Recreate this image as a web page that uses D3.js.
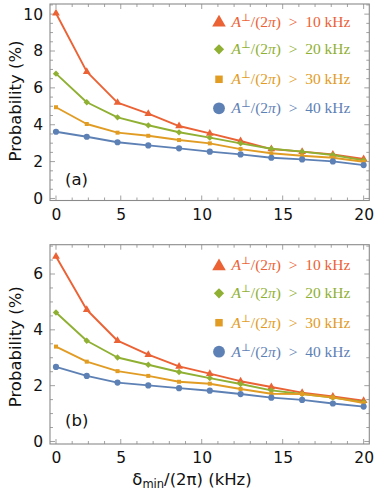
<!DOCTYPE html>
<html>
<head>
<meta charset="utf-8">
<script src="https://cdn.jsdelivr.net/npm/d3@7"></script>
<style>
  html, body { margin: 0; padding: 0; background: #fff; }
  svg { display: block; }
</style>
</head>
<body>
<svg id="chart" width="374" height="492"></svg>
<script>
// ---------- data ----------
const xValues = [1, 2.9, 4.8, 6.7, 8.6, 10.5, 12.4, 14.3, 16.2, 18.1, 20];
const seriesThresholds = ["10", "20", "30", "40"];
const seriesColors = ["#EB6235", "#8FB032", "#E19C24", "#5E81B5"];
const seriesSymbols = ["triangle", "diamond", "square", "circle"];

// panel (a)
const panelA_10 = [10.05, 6.88, 5.20, 4.60, 3.93, 3.53, 3.12, 2.68, 2.54, 2.39, 2.14];
const panelA_20 = [6.77, 5.22, 4.40, 3.97, 3.59, 3.30, 2.99, 2.70, 2.54, 2.36, 2.07];
const panelA_30 = [4.95, 4.04, 3.57, 3.40, 3.17, 2.99, 2.68, 2.45, 2.32, 2.21, 1.99];
const panelA_40 = [3.62, 3.35, 3.05, 2.88, 2.72, 2.54, 2.39, 2.21, 2.12, 2.01, 1.81];

// panel (b)
const panelB_10 = [6.63, 4.72, 3.61, 3.11, 2.69, 2.43, 2.16, 1.95, 1.75, 1.61, 1.46];
const panelB_20 = [4.62, 3.61, 3.01, 2.75, 2.49, 2.27, 2.06, 1.83, 1.70, 1.57, 1.41];
const panelB_30 = [3.40, 2.86, 2.52, 2.35, 2.14, 2.07, 1.88, 1.71, 1.70, 1.58, 1.38];
const panelB_40 = [2.67, 2.35, 2.11, 2.01, 1.91, 1.82, 1.70, 1.57, 1.49, 1.36, 1.25];

// ticks
const xTickValues = [1, 5, 10, 15, 20];
const xTickLabels = ["0", "5", "10", "15", "20"];
const xMinorTicks = d3.range(1, 21, 1);
const yTicksA = [0, 2, 4, 6, 8, 10];
const yTicksB = [0, 2, 4, 6];

// ---------- drawing ----------
const svg = d3.select("#chart");
const FONT = "'DejaVu Sans', sans-serif";
const FRAME = "#8a8a8a";

const panels = [
  { tag: "(a)", series: [panelA_10, panelA_20, panelA_30, panelA_40],
    top: 4, bottom: 200.5, yDomain: [-0.11, 10.55], yTicks: yTicksA,
    legendY: [21.7, 49.3, 79.3, 108.3], tagY: 179, ylabY: 101 },
  { tag: "(b)", series: [panelB_10, panelB_20, panelB_30, panelB_40],
    top: 244.7, bottom: 444, yDomain: [-0.09, 7.05], yTicks: yTicksB,
    legendY: [265.3, 293.3, 322.7, 351.7], tagY: 420, ylabY: 346.7 }
];

const left = 50, right = 369.3;
const x = d3.scaleLinear().domain([0.63, 20.35]).range([left, right]);

const symbolType = {
  triangle: d3.symbolTriangle, diamond: d3.symbolSquare,
  square: d3.symbolSquare, circle: d3.symbolCircle
};
const symbolRot = { triangle: 0, diamond: 45, square: 0, circle: 0 };
const plotSize = { triangle: 26, diamond: 20, square: 16, circle: 30 };
const legSize = { triangle: 80, diamond: 52, square: 56, circle: 110 };

panels.forEach(p => {
  const y = d3.scaleLinear().domain(p.yDomain).range([p.bottom, p.top]);
  const g = svg.append("g");

  // ticks (inward, all four sides)
  const yMinor = d3.range(0, p.yDomain[1], 0.5);
  const tickG = g.append("g").attr("stroke", FRAME).attr("stroke-width", 0.8);
  xMinorTicks.forEach(v => {
    const major = xTickValues.includes(v);
    const L = major ? 5 : 3;
    tickG.append("line").attr("x1", x(v)).attr("x2", x(v)).attr("y1", p.bottom).attr("y2", p.bottom - L);
    tickG.append("line").attr("x1", x(v)).attr("x2", x(v)).attr("y1", p.top).attr("y2", p.top + L);
  });
  yMinor.forEach(v => {
    const major = p.yTicks.includes(v);
    const L = major ? 5 : 3;
    tickG.append("line").attr("y1", y(v)).attr("y2", y(v)).attr("x1", left).attr("x2", left + L);
    tickG.append("line").attr("y1", y(v)).attr("y2", y(v)).attr("x1", right).attr("x2", right - L);
  });

  // axes (labels)
  const xAxis = d3.axisBottom(x).tickValues(xTickValues)
    .tickFormat((d, i) => xTickLabels[i]).tickSize(0).tickPadding(8);
  const xg = g.append("g").attr("transform", `translate(0,${p.bottom})`).call(xAxis);
  const yAxis = d3.axisLeft(y).tickValues(p.yTicks).tickFormat(d3.format("d")).tickSize(0).tickPadding(7);
  const yg = g.append("g").attr("transform", `translate(${left},0)`).call(yAxis);
  [xg, yg].forEach(a => {
    a.select(".domain").remove();
    a.selectAll("text").attr("font-family", FONT).attr("font-size", 15.5).attr("fill", "#111");
  });

  // frame
  g.append("rect").attr("x", left).attr("y", p.top)
    .attr("width", right - left).attr("height", p.bottom - p.top)
    .attr("fill", "none").attr("stroke", FRAME).attr("stroke-width", 1.1);

  // lines and markers
  const line = d3.line().x((d, i) => x(xValues[i])).y(d => y(d));
  p.series.forEach((vals, si) => {
    const name = seriesSymbols[si];
    g.append("path").datum(vals).attr("d", line)
      .attr("fill", "none").attr("stroke", seriesColors[si])
      .attr("stroke-width", 1.9).attr("stroke-linejoin", "round");
    const sym = d3.symbol().type(symbolType[name]).size(plotSize[name]);
    g.selectAll(null).data(vals).enter().append("path")
      .attr("d", sym)
      .attr("transform", (d, i) => `translate(${x(xValues[i])},${y(d)}) rotate(${symbolRot[name]})`)
      .attr("fill", seriesColors[si]);
  });

  // legend
  seriesThresholds.forEach((t, si) => {
    const ly = p.legendY[si];
    const name = seriesSymbols[si];
    const sym = d3.symbol().type(symbolType[name]).size(legSize[name]);
    g.append("path").attr("d", sym)
      .attr("transform", `translate(219,${ly + (name === "triangle" ? 1 : 0)}) rotate(${symbolRot[name]})`)
      .attr("fill", seriesColors[si]);
    const txt = g.append("text").attr("x", 231.5).attr("y", ly + 5)
      .attr("font-family", "'Liberation Serif', 'DejaVu Serif', serif")
      .attr("font-size", 15.5).attr("fill", seriesColors[si]);
    txt.append("tspan").attr("font-style", "italic").text("A");
    txt.append("tspan").attr("font-size", 10.5).attr("dy", -6).text("⊥");
    txt.append("tspan").attr("dy", 6).text("/(2");
    txt.append("tspan").attr("font-style", "italic").text("π");
    txt.append("tspan").text(")\u2002>\u2002" + t + " kHz");
  });

  // panel tag
  g.append("text").attr("x", 65).attr("y", p.tagY + 6)
    .attr("font-family", FONT).attr("font-size", 16.5).attr("fill", "#111").text(p.tag);

  // y label
  g.append("text").attr("transform", `translate(21,${p.ylabY}) rotate(-90)`)
    .attr("text-anchor", "middle")
    .attr("font-family", FONT).attr("font-size", 16.5).attr("fill", "#111")
    .text("Probability (%)");
});

// x label
const xl = svg.append("text").attr("x", 192).attr("y", 485)
  .attr("text-anchor", "middle").attr("font-family", FONT)
  .attr("font-size", 16.5).attr("fill", "#111");
xl.append("tspan").text("δ");
xl.append("tspan").attr("font-size", 11.5).attr("dy", 3).text("min");
xl.append("tspan").attr("dy", -3).text("/(2π) (kHz)");
</script>
</body>
</html>
